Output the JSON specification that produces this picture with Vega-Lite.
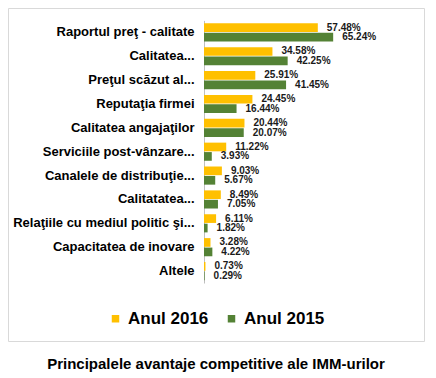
{
  "$schema": "https://vega.github.io/schema/vega-lite/v6.json",
  "width": 416,
  "height": 333,
  "autosize": "none",
  "padding": {"left": 8, "top": 8, "right": 12, "bottom": 37},
  "background": "white",
  "config": {
    "font": "Liberation Sans",
    "view": {"stroke": "#d9d9d9", "strokeWidth": 1}
  },
  "title": {
    "text": "Principalele avantaje competitive ale IMM-urilor",
    "orient": "bottom",
    "anchor": "middle",
    "fontSize": 15,
    "fontWeight": "bold",
    "color": "#000000",
    "offset": 16
  },
  "data": {
    "values": [
      {"cat": "Raportul preţ - calitate", "an": "Anul 2016", "v": 0.5748},
      {"cat": "Raportul preţ - calitate", "an": "Anul 2015", "v": 0.6524},
      {"cat": "Calitatea...", "an": "Anul 2016", "v": 0.3458},
      {"cat": "Calitatea...", "an": "Anul 2015", "v": 0.4225},
      {"cat": "Preţul scăzut al...", "an": "Anul 2016", "v": 0.2591},
      {"cat": "Preţul scăzut al...", "an": "Anul 2015", "v": 0.4145},
      {"cat": "Reputaţia firmei", "an": "Anul 2016", "v": 0.2445},
      {"cat": "Reputaţia firmei", "an": "Anul 2015", "v": 0.1644},
      {"cat": "Calitatea angajaţilor", "an": "Anul 2016", "v": 0.2044},
      {"cat": "Calitatea angajaţilor", "an": "Anul 2015", "v": 0.2007},
      {"cat": "Serviciile post-vânzare...", "an": "Anul 2016", "v": 0.1122},
      {"cat": "Serviciile post-vânzare...", "an": "Anul 2015", "v": 0.0393},
      {"cat": "Canalele de distribuţie...", "an": "Anul 2016", "v": 0.0903},
      {"cat": "Canalele de distribuţie...", "an": "Anul 2015", "v": 0.0567},
      {"cat": "Calitatatea...", "an": "Anul 2016", "v": 0.0849},
      {"cat": "Calitatatea...", "an": "Anul 2015", "v": 0.0705},
      {"cat": "Relaţiile cu mediul politic şi...", "an": "Anul 2016", "v": 0.0611},
      {"cat": "Relaţiile cu mediul politic şi...", "an": "Anul 2015", "v": 0.0182},
      {"cat": "Capacitatea de inovare", "an": "Anul 2016", "v": 0.0328},
      {"cat": "Capacitatea de inovare", "an": "Anul 2015", "v": 0.0422},
      {"cat": "Altele", "an": "Anul 2016", "v": 0.0073},
      {"cat": "Altele", "an": "Anul 2015", "v": 0.0029}
    ]
  },
  "encoding": {
    "y": {
      "field": "cat",
      "type": "nominal",
      "sort": null,
      "scale": {"range": [12.4, 275], "paddingInner": 0.24, "paddingOuter": 0.12},
      "axis": {
        "title": null,
        "offset": -196,
        "ticks": false,
        "domainColor": "#bfbfbf",
        "labelFontSize": 13,
        "labelFontWeight": "bold",
        "labelColor": "#000000",
        "labelPadding": 10,
        "labelLimit": 300
      }
    },
    "yOffset": {
      "field": "an",
      "type": "nominal",
      "sort": ["Anul 2016", "Anul 2015"],
      "scale": {"paddingInner": 0.08}
    },
    "x": {
      "field": "v",
      "type": "quantitative",
      "scale": {"domain": [0, 1], "range": [196, 394], "zero": true, "nice": false},
      "axis": null
    }
  },
  "layer": [
    {
      "mark": {"type": "bar"},
      "encoding": {
        "color": {
          "field": "an",
          "type": "nominal",
          "scale": {"domain": ["Anul 2016", "Anul 2015"], "range": ["#FFC000", "#548235"]},
          "legend": {
            "title": null,
            "orient": "none",
            "legendX": 99,
            "legendY": 302,
            "direction": "horizontal",
            "symbolType": "square",
            "symbolSize": 56,
            "symbolStrokeWidth": 0,
            "labelFontSize": 17,
            "labelFontWeight": "bold",
            "labelColor": "#000000",
            "labelOffset": 4,
            "columnPadding": 14
          }
        }
      }
    },
    {
      "mark": {"type": "text", "align": "left", "dx": 9, "fontSize": 10, "fontWeight": "bold", "color": "#1a1a1a", "baseline": "middle"},
      "encoding": {
        "text": {"field": "v", "type": "quantitative", "format": ".2%"}
      }
    }
  ]
}
